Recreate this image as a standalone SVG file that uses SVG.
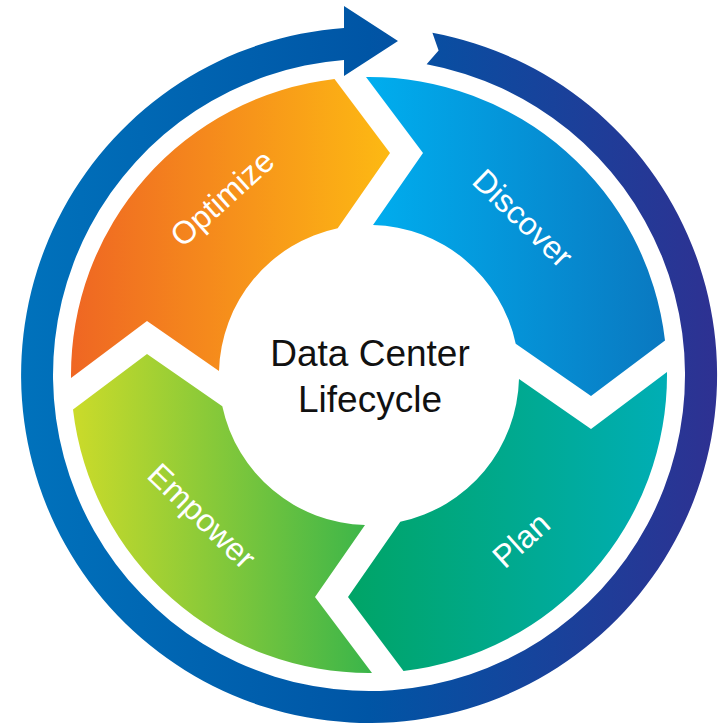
<svg xmlns="http://www.w3.org/2000/svg" width="725" height="724" viewBox="0 0 725 724">
  <defs>
    <linearGradient id="gRing" gradientUnits="userSpaceOnUse" x1="21" y1="0" x2="717" y2="0">
      <stop offset="0" stop-color="#0072BC"/>
      <stop offset="0.5" stop-color="#0055A5"/>
      <stop offset="1" stop-color="#2E3192"/>
    </linearGradient>
    <linearGradient id="gOpt" gradientUnits="userSpaceOnUse" x1="71" y1="0" x2="390" y2="0">
      <stop offset="0" stop-color="#EF6623"/>
      <stop offset="1" stop-color="#FDB913"/>
    </linearGradient>
    <linearGradient id="gDis" gradientUnits="userSpaceOnUse" x1="366" y1="0" x2="667" y2="0">
      <stop offset="0" stop-color="#00AEEF"/>
      <stop offset="1" stop-color="#0A78C0"/>
    </linearGradient>
    <linearGradient id="gPlan" gradientUnits="userSpaceOnUse" x1="348" y1="0" x2="667" y2="0">
      <stop offset="0" stop-color="#00A466"/>
      <stop offset="1" stop-color="#00AEB5"/>
    </linearGradient>
    <linearGradient id="gEmp" gradientUnits="userSpaceOnUse" x1="73" y1="0" x2="372" y2="0">
      <stop offset="0" stop-color="#CBDB2A"/>
      <stop offset="1" stop-color="#3AB54A"/>
    </linearGradient>
  </defs>
  <style>
    .lbl { font-family: "Liberation Sans", Arial, sans-serif; font-size: 32px; fill: #FFFFFF; text-anchor: middle; }
    .ctr { font-family: "Liberation Sans", Arial, sans-serif; font-size: 37px; fill: #111111; text-anchor: middle; }
  </style>
  <rect width="725" height="724" fill="#FFFFFF"/>

  <g id="connectors">
    <path id="cycle-arrow" fill="url(#gRing)" d="M432.4,32.8 A348,348 0 1 1 344,27.9 L344,6 L398,41 L344,76 L344,60 A316,316 0 1 0 426.6,64.3 L438.6,50.4 Z"/>
  </g>

  <g id="optimize">
    <path fill="url(#gOpt)" d="M71,378 A298,298 0 0 1 334.5,79 L390,153 L337.7,228.3 A150,150 0 0 0 219,371 L147,321 Z"/>
    <text class="lbl" transform="translate(222,198) rotate(-42)" x="0" y="0" dy="0.35em">Optimize</text>
  </g>

  <g id="discover">
    <path fill="url(#gDis)" d="M366,77 A298,298 0 0 1 665,340.5 L591,396 L515.7,343.7 A150,150 0 0 0 373,225 L423,153 Z"/>
    <text class="lbl" transform="translate(523,218) rotate(44)" x="0" y="0" dy="0.35em">Discover</text>
  </g>

  <g id="plan">
    <path fill="url(#gPlan)" d="M667,372 A298,298 0 0 1 403.5,671 L348,597 L400.3,521.7 A150,150 0 0 0 519,379 L591,429 Z"/>
    <text class="lbl" transform="translate(521,540) rotate(-42)" x="0" y="0" dy="0.35em">Plan</text>
  </g>

  <g id="empower">
    <path fill="url(#gEmp)" d="M372,673 A298,298 0 0 1 73,409.5 L147,354 L222.3,406.3 A150,150 0 0 0 365,525 L315,597 Z"/>
    <text class="lbl" transform="translate(202,516) rotate(44)" x="0" y="0" dy="0.35em">Empower</text>
  </g>

  <g id="center">
    <text class="ctr" x="370" y="366">Data Center</text>
    <text class="ctr" x="370" y="412">Lifecycle</text>
  </g>
</svg>
